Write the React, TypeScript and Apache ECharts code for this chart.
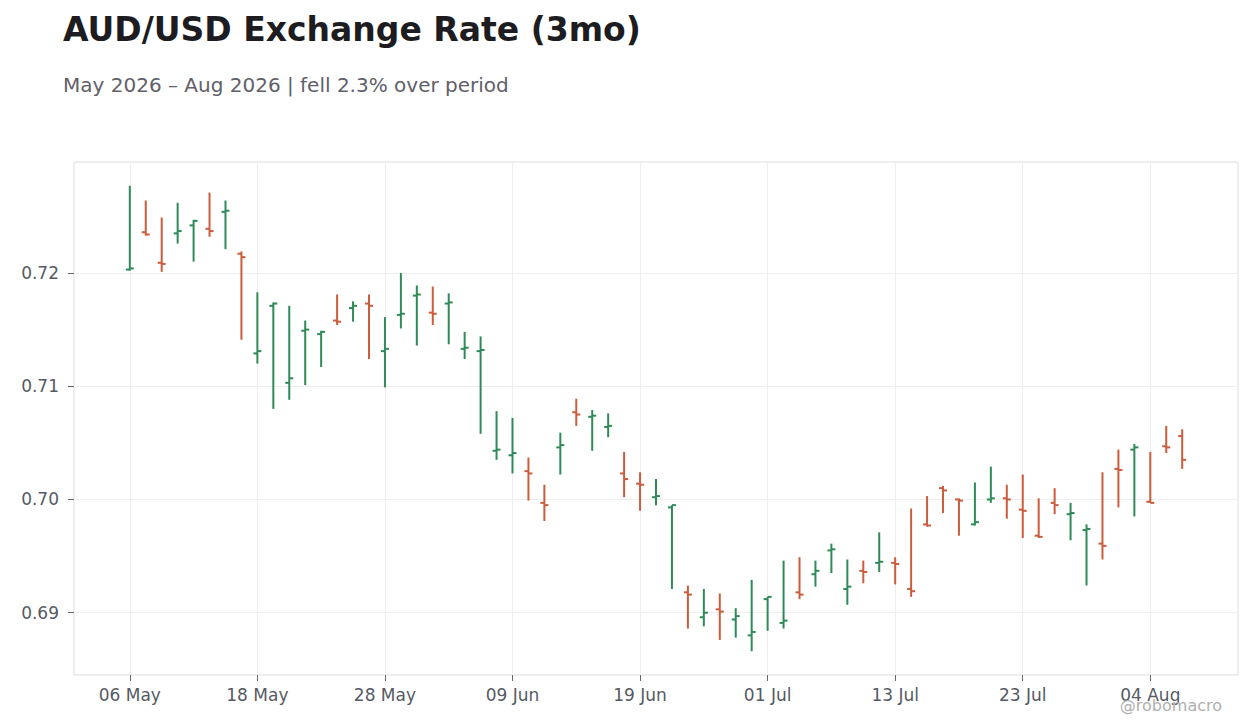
import React, { useEffect, useRef } from 'react';
import * as echarts from 'echarts';

// Business days, 06 May 2026 - 06 Aug 2026
const dates = [
  '06 May', '07 May', '08 May', '11 May', '12 May', '13 May', '14 May', '15 May',
  '18 May', '19 May', '20 May', '21 May', '22 May', '25 May', '26 May', '27 May',
  '28 May', '29 May', '01 Jun', '02 Jun', '03 Jun', '04 Jun', '05 Jun', '08 Jun',
  '09 Jun', '10 Jun', '11 Jun', '12 Jun', '15 Jun', '16 Jun', '17 Jun', '18 Jun',
  '19 Jun', '22 Jun', '23 Jun', '24 Jun', '25 Jun', '26 Jun', '29 Jun', '30 Jun',
  '01 Jul', '02 Jul', '03 Jul', '06 Jul', '07 Jul', '08 Jul', '09 Jul', '10 Jul',
  '13 Jul', '14 Jul', '15 Jul', '16 Jul', '17 Jul', '20 Jul', '21 Jul', '22 Jul',
  '23 Jul', '24 Jul', '27 Jul', '28 Jul', '29 Jul', '30 Jul', '31 Jul', '03 Aug',
  '04 Aug', '05 Aug', '06 Aug'
];

const opens = [
  0.7203, 0.7236, 0.7209, 0.7235, 0.7242, 0.7239, 0.7254, 0.7217,
  0.7129, 0.7171, 0.7103, 0.7149, 0.7146, 0.7158, 0.7169, 0.7173,
  0.7131, 0.7163, 0.7180, 0.7165, 0.7173, 0.7133, 0.7131, 0.7043,
  0.7039, 0.7025, 0.6997, 0.7046, 0.7077, 0.7073, 0.7064, 0.7023,
  0.7014, 0.7002, 0.6993, 0.6918, 0.6896, 0.6903, 0.6894, 0.6880,
  0.6912, 0.6891, 0.6918, 0.6934, 0.6955, 0.6921, 0.6937, 0.6944,
  0.6944, 0.6921, 0.6978, 0.7010, 0.7000, 0.6978, 0.7000, 0.7001,
  0.6991, 0.6968, 0.6997, 0.6987, 0.6973, 0.6961, 0.7027, 0.7044,
  0.6998, 0.7047, 0.7056
];

const highs = [
  0.7277, 0.7264, 0.7249, 0.7262, 0.7247, 0.7271, 0.7264, 0.7219,
  0.7183, 0.7174, 0.7171, 0.7158, 0.7149, 0.7181, 0.7175, 0.7181,
  0.7161, 0.7200, 0.7189, 0.7188, 0.7182, 0.7148, 0.7144, 0.7078,
  0.7072, 0.7037, 0.7013, 0.7059, 0.7089, 0.7079, 0.7076, 0.7042,
  0.7024, 0.7018, 0.6995, 0.6924, 0.6921, 0.6917, 0.6904, 0.6929,
  0.6914, 0.6946, 0.6949, 0.6946, 0.6961, 0.6947, 0.6946, 0.6971,
  0.6949, 0.6992, 0.7003, 0.7012, 0.7001, 0.7015, 0.7029, 0.7013,
  0.7022, 0.7001, 0.7010, 0.6997, 0.6978, 0.7024, 0.7044, 0.7049,
  0.7042, 0.7065, 0.7062
];

const lows = [
  0.7202, 0.7233, 0.7201, 0.7226, 0.7210, 0.7232, 0.7221, 0.7141,
  0.7120, 0.7080, 0.7088, 0.7101, 0.7117, 0.7154, 0.7157, 0.7124,
  0.7099, 0.7151, 0.7136, 0.7154, 0.7137, 0.7124, 0.7058, 0.7035,
  0.7023, 0.6999, 0.6981, 0.7022, 0.7065, 0.7043, 0.7055, 0.7002,
  0.6990, 0.6995, 0.6921, 0.6886, 0.6888, 0.6876, 0.6878, 0.6866,
  0.6884, 0.6886, 0.6912, 0.6923, 0.6935, 0.6907, 0.6926, 0.6936,
  0.6925, 0.6914, 0.6976, 0.6988, 0.6968, 0.6977, 0.6997, 0.6983,
  0.6966, 0.6966, 0.6987, 0.6964, 0.6924, 0.6947, 0.6993, 0.6985,
  0.6997, 0.7041, 0.7027
];

const closes = [
  0.7204, 0.7234, 0.7208, 0.7237, 0.7246, 0.7237, 0.7255, 0.7214,
  0.7131, 0.7173, 0.7107, 0.7150, 0.7148, 0.7157, 0.7171, 0.7171,
  0.7133, 0.7164, 0.7181, 0.7164, 0.7174, 0.7134, 0.7132, 0.7044,
  0.7041, 0.7023, 0.6995, 0.7048, 0.7075, 0.7074, 0.7065, 0.7018,
  0.7013, 0.7003, 0.6995, 0.6916, 0.6900, 0.6901, 0.6897, 0.6883,
  0.6914, 0.6893, 0.6916, 0.6937, 0.6956, 0.6923, 0.6936, 0.6945,
  0.6943, 0.6919, 0.6977, 0.7008, 0.6999, 0.6980, 0.7001, 0.7000,
  0.6990, 0.6967, 0.6995, 0.6988, 0.6974, 0.6959, 0.7026, 0.7046,
  0.6997, 0.7046, 0.7035
];

const xTickLabels = ['06 May', '18 May', '28 May', '09 Jun', '19 Jun', '01 Jul', '13 Jul', '23 Jul', '04 Aug'];
const yTicks = [0.69, 0.7, 0.71, 0.72];

const UP = '#2e8b57';
const DOWN = '#cc5c3b';
const FONT = 'DejaVu Sans';
const PAD = 3; // empty slots either side of the bars

const App: React.FC = () => {
  const chartRef = useRef<HTMLDivElement>(null);

  useEffect(() => {
    if (!chartRef.current) return;
    const chart = echarts.init(chartRef.current, undefined, { renderer: 'svg' });

    const padCats = Array.from({ length: PAD }, () => '');
    const categories = [...padCats, ...dates, ...padCats];
    const showTick = (_i: number, value: string) => xTickLabels.includes(value);

    const ohlc = dates.map((_, i) => [i + PAD, opens[i], highs[i], lows[i], closes[i]]);

    const option = {
      animation: false,
      textStyle: { fontFamily: FONT },
      title: [
        {
          text: 'AUD/USD Exchange Rate (3mo)',
          left: 63,
          top: 13,
          padding: 0,
          textStyle: { fontFamily: FONT, fontSize: 33, fontWeight: 'bold', color: '#1c1c21' }
        },
        {
          text: 'May 2026 – Aug 2026 | fell 2.3% over period',
          left: 63,
          top: 75,
          padding: 0,
          textStyle: { fontFamily: FONT, fontSize: 20, fontWeight: 'normal', color: '#5f6069' }
        },
        {
          text: '@robomacro',
          right: 38,
          top: 697,
          padding: 0,
          textStyle: { fontFamily: FONT, fontSize: 16, fontWeight: 'normal', color: '#b0b0b0' }
        }
      ],
      grid: {
        left: 74,
        right: 22,
        top: 162,
        bottom: 53,
        show: true,
        borderColor: '#dddddd',
        borderWidth: 1
      },
      xAxis: {
        type: 'category',
        data: categories,
        boundaryGap: true,
        axisLine: { show: false },
        axisTick: {
          show: true,
          alignWithLabel: true,
          interval: showTick,
          length: 6,
          lineStyle: { color: '#666666' }
        },
        axisLabel: {
          interval: showTick,
          fontSize: 17,
          margin: 11,
          color: '#555a63'
        },
        splitLine: {
          show: true,
          alignWithLabel: true,
          interval: showTick,
          lineStyle: { color: '#eeeeee' }
        }
      },
      yAxis: {
        type: 'value',
        min: 0.6845,
        max: 0.7298,
        axisLine: { show: false },
        axisTick: {
          show: true,
          customValues: yTicks,
          length: 6,
          lineStyle: { color: '#666666' }
        },
        axisLabel: {
          customValues: yTicks,
          formatter: (v: number) => v.toFixed(2),
          fontSize: 17,
          margin: 15,
          color: '#555a63'
        },
        splitLine: {
          show: true,
          lineStyle: { color: '#eeeeee' }
        }
      },
      series: [
        {
          type: 'custom',
          name: 'AUD/USD',
          encode: { x: 0, y: [1, 2, 3, 4] },
          data: ohlc,
          renderItem: (_params: any, api: any) => {
            const x = api.value(0);
            const open = api.value(1);
            const close = api.value(4);
            const o = api.coord([x, open]);
            const h = api.coord([x, api.value(2)]);
            const l = api.coord([x, api.value(3)]);
            const c = api.coord([x, close]);
            const color = close >= open ? UP : DOWN;
            const style = { stroke: color, lineWidth: 2 };
            return {
              type: 'group',
              children: [
                { type: 'line', shape: { x1: h[0], y1: h[1], x2: l[0], y2: l[1] }, style },
                { type: 'line', shape: { x1: o[0] - 4, y1: o[1], x2: o[0], y2: o[1] }, style },
                { type: 'line', shape: { x1: c[0], y1: c[1], x2: c[0] + 4, y2: c[1] }, style }
              ]
            };
          }
        }
      ]
    };

    chart.setOption(option);

    return () => {
      chart.dispose();
    };
  }, []);

  return (
    <div
      ref={chartRef}
      style={{ position: 'fixed', left: 0, top: 0, width: 1260, height: 728, background: '#ffffff' }}
    />
  );
};

export default App;
